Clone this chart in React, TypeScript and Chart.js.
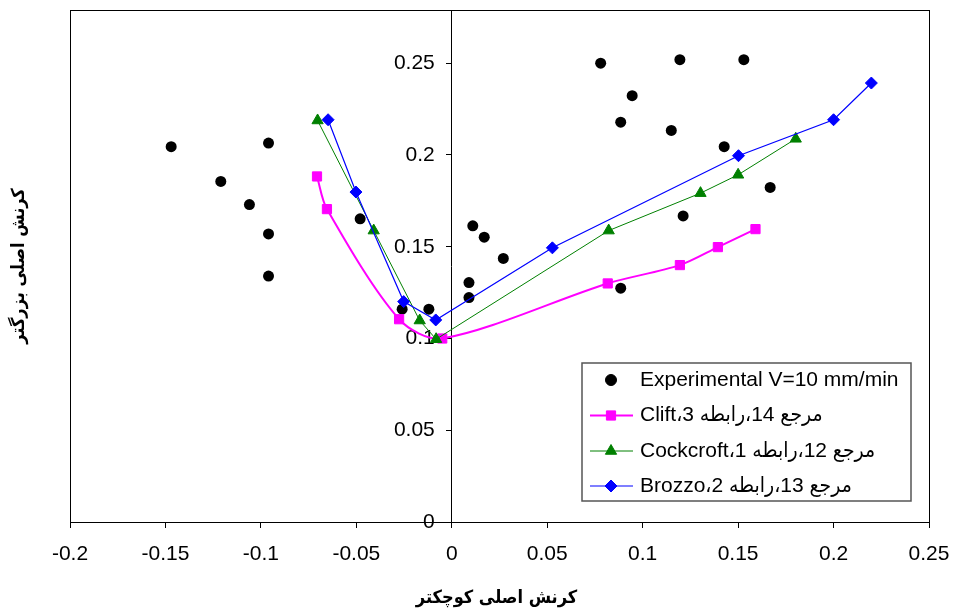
import React, { useEffect, useRef } from "react";
import { Chart, registerables } from "chart.js";

Chart.register(...registerables);

// ---- data ----
const expX = [-0.147, -0.121, -0.106, -0.096, -0.096, -0.096, -0.048, -0.026, -0.012, 0.009, 0.009, 0.011, 0.017, 0.027, 0.078, 0.0885, 0.0945, 0.0885, 0.115, 0.1195, 0.1212, 0.1427, 0.153, 0.1668];
const expY = [0.2045, 0.1856, 0.173, 0.2065, 0.157, 0.134, 0.1652, 0.116, 0.116, 0.1305, 0.1223, 0.1614, 0.1552, 0.1436, 0.25, 0.2179, 0.2323, 0.1274, 0.2134, 0.2519, 0.1668, 0.2045, 0.2519, 0.1823];

const cliftX = [-0.0706, -0.0654, -0.0276, -0.005, 0.0817, 0.1195, 0.1394, 0.1591];
const cliftY = [0.1883, 0.1705, 0.1105, 0.1, 0.13, 0.14, 0.1498, 0.1596];

const cockX = [-0.0703, -0.0409, -0.0168, -0.0082, 0.0822, 0.1303, 0.15, 0.1802];
const cockY = [0.2188, 0.1588, 0.1098, 0.0996, 0.1588, 0.1792, 0.1892, 0.2088];

const brozzoX = [-0.0648, -0.0502, -0.0252, -0.0084, 0.0527, 0.1502, 0.2, 0.2198];
const brozzoY = [0.2192, 0.1798, 0.1201, 0.1101, 0.1494, 0.1996, 0.2192, 0.2392];

const seriesLabels = [
  "Experimental V=10 mm/min",
  "مرجع 14،رابطه 3،Clift",
  "مرجع 12،رابطه 1،Cockcroft",
  "مرجع 13،رابطه 2،Brozzo",
];
const xTitle = "کرنش اصلی کوچکتر";
const yTitle = "کرنش اصلی بزرگتر";

const X_MIN = -0.2;
const X_MAX = 0.25;
const Y_MIN = 0;
const Y_MAX = 0.279;
const STEP = 0.05;

const FONT = "'Liberation Sans', Arial, 'DejaVu Sans Condensed', 'DejaVu Sans', sans-serif";
const TITLE_FONT = "bold 18px 'DejaVu Sans Condensed', 'DejaVu Sans', sans-serif";
const TICK_FONT = "21px " + FONT;

const toPts = (xs: number[], ys: number[]) => xs.map((x, i) => ({ x, y: ys[i] }));

const fmt = (v: any) => String(+Number(v).toFixed(2));

function drawMarker(ctx: CanvasRenderingContext2D, style: string, x: number, y: number, r: number) {
  ctx.beginPath();
  if (style === "circle") {
    ctx.arc(x, y, r, 0, Math.PI * 2);
  } else if (style === "rect") {
    const s = Math.SQRT1_2 * r;
    ctx.rect(x - s, y - s, 2 * s, 2 * s);
  } else if (style === "triangle") {
    let rad = 0;
    ctx.moveTo(x + Math.sin(rad) * r, y - Math.cos(rad) * r);
    rad += (2 * Math.PI) / 3;
    ctx.lineTo(x + Math.sin(rad) * r, y - Math.cos(rad) * r);
    rad += (2 * Math.PI) / 3;
    ctx.lineTo(x + Math.sin(rad) * r, y - Math.cos(rad) * r);
    ctx.closePath();
  } else if (style === "rectRot") {
    ctx.moveTo(x - r, y);
    ctx.lineTo(x, y - r);
    ctx.lineTo(x + r, y);
    ctx.lineTo(x, y + r);
    ctx.closePath();
  }
  ctx.fill();
  ctx.stroke();
}

const overlayPlugin = {
  id: "overlay",
  beforeDatasetsDraw(chart: any) {
    // y tick labels, placed left of the y axis that crosses at x = 0
    const { ctx } = chart;
    const xs = chart.scales.x;
    const ys = chart.scales.y;
    const axisX = xs.getPixelForValue(0);
    ctx.save();
    ctx.fillStyle = "#000";
    ctx.font = TICK_FONT;
    ctx.textAlign = "right";
    ctx.textBaseline = "middle";
    ys.ticks.forEach((t: any) => {
      ctx.fillText(fmt(t.value), axisX - 17, ys.getPixelForValue(t.value));
    });
    ctx.restore();
  },
  afterDraw(chart: any) {
    const { ctx, chartArea: a } = chart;
    ctx.save();
    // plot area border
    ctx.strokeStyle = "#000";
    ctx.lineWidth = 1;
    ctx.strokeRect(Math.round(a.left) + 0.5, Math.round(a.top) + 0.5, Math.round(a.right - a.left), Math.round(a.bottom - a.top));

    // axis titles
    ctx.fillStyle = "#000";
    ctx.font = TITLE_FONT;
    ctx.textAlign = "center";
    ctx.textBaseline = "middle";
    ctx.fillText(xTitle, (a.left + a.right) / 2 - 3, 598);
    ctx.save();
    ctx.translate(19, (a.top + a.bottom) / 2);
    ctx.rotate(-Math.PI / 2);
    ctx.fillText(yTitle, 0, 0);
    ctx.restore();

    // legend
    const lx = 582, ly = 363, lw = 329, lh = 138;
    ctx.fillStyle = "#fff";
    ctx.fillRect(lx, ly, lw, lh);
    ctx.strokeStyle = "#555";
    ctx.lineWidth = 1.5;
    ctx.strokeRect(lx, ly, lw, lh);
    const rows = [380, 415.5, 451, 486];
    chart.data.datasets.forEach((ds: any, i: number) => {
      const cy = rows[i];
      if (ds.showLine) {
        ctx.strokeStyle = ds.borderColor;
        ctx.lineWidth = ds.borderWidth;
        ctx.beginPath();
        ctx.moveTo(590, cy);
        ctx.lineTo(633, cy);
        ctx.stroke();
      }
      ctx.fillStyle = ds.pointBackgroundColor;
      ctx.strokeStyle = ds.pointBorderColor;
      ctx.lineWidth = 1;
      drawMarker(ctx, ds.pointStyle, 611, cy, ds.pointRadius);
      ctx.fillStyle = "#000";
      ctx.font = TICK_FONT;
      ctx.textAlign = "left";
      ctx.textBaseline = "middle";
      (ctx as any).direction = i === 0 ? "ltr" : "rtl";
      ctx.fillText(seriesLabels[i], 640, cy);
      (ctx as any).direction = "ltr";
    });
    ctx.restore();
  },
};

export default function App() {
  const ref = useRef<HTMLCanvasElement | null>(null);
  useEffect(() => {
    if (!ref.current) return;
    const chart = new Chart(ref.current, {
      type: "scatter",
      data: {
        datasets: [
          {
            label: seriesLabels[0],
            data: toPts(expX, expY),
            showLine: false,
            pointStyle: "circle",
            pointRadius: 5.5,
            pointBackgroundColor: "#000",
            pointBorderColor: "#000",
            pointBorderWidth: 0,
            borderColor: "#000",
            backgroundColor: "#000",
            order: 4,
          },
          {
            label: seriesLabels[1],
            data: toPts(cliftX, cliftY),
            showLine: true,
            tension: 0.3,
            borderColor: "#FF00FF",
            backgroundColor: "#FF00FF",
            borderWidth: 2,
            pointStyle: "rect",
            pointRadius: 6.5,
            pointBackgroundColor: "#FF00FF",
            pointBorderColor: "#FF00FF",
            pointBorderWidth: 1,
            order: 3,
          },
          {
            label: seriesLabels[2],
            data: toPts(cockX, cockY),
            showLine: true,
            borderColor: "#008000",
            backgroundColor: "#008000",
            borderWidth: 1,
            pointStyle: "triangle",
            pointRadius: 6.5,
            pointBackgroundColor: "#008000",
            pointBorderColor: "#008000",
            pointBorderWidth: 1,
            order: 2,
          },
          {
            label: seriesLabels[3],
            data: toPts(brozzoX, brozzoY),
            showLine: true,
            borderColor: "#0000FF",
            backgroundColor: "#0000FF",
            borderWidth: 1.2,
            pointStyle: "rectRot",
            pointRadius: 6,
            pointBackgroundColor: "#0000FF",
            pointBorderColor: "#0000FF",
            pointBorderWidth: 1,
            order: 1,
          },
        ],
      },
      options: {
        animation: false,
        responsive: false,
        devicePixelRatio: 1,
        events: [],
        layout: { padding: { left: 70, right: 25, top: 10, bottom: 0 } },
        plugins: { legend: { display: false }, tooltip: { enabled: false } },
        scales: {
          x: {
            type: "linear",
            position: "bottom",
            min: X_MIN,
            max: X_MAX,
            grid: { drawOnChartArea: false, drawTicks: true, tickLength: 6, color: "#000" },
            border: { display: true, color: "#000", width: 1 },
            ticks: { stepSize: STEP, color: "#000", font: { family: FONT, size: 21 }, padding: 14, callback: fmt, maxRotation: 0, autoSkip: false },
            afterFit: (s: any) => {
              s.height = 92;
              s.paddingLeft = 0;
              s.paddingRight = 0;
            },
          },
          y: {
            type: "linear",
            position: { x: 0 } as any,
            min: Y_MIN,
            max: Y_MAX,
            grid: { drawOnChartArea: false, drawTicks: true, tickLength: 5, color: "#000" },
            border: { display: true, color: "#000", width: 1 },
            ticks: { display: false, stepSize: STEP, includeBounds: false, autoSkip: false },
            afterFit: (s: any) => {
              s.paddingTop = 0;
              s.paddingBottom = 0;
            },
          },
        },
      },
      plugins: [overlayPlugin],
    } as any);
    return () => chart.destroy();
  }, []);
  return (
    <div style={{ position: "absolute", left: 0, top: 0, width: 954, height: 614 }}>
      <canvas ref={ref} width={954} height={614} style={{ display: "block", width: 954, height: 614 }} />
    </div>
  );
}
